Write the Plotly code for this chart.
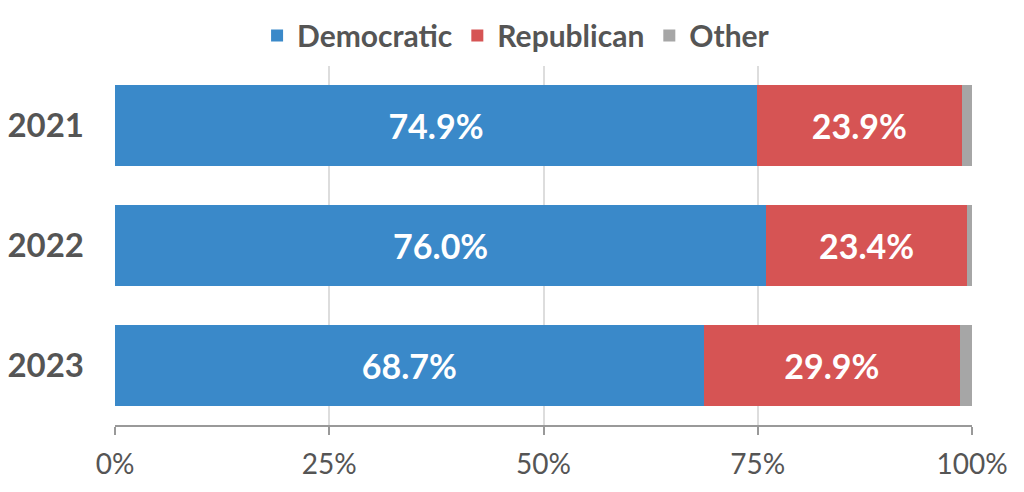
import plotly.graph_objects as go

years = ["2021", "2022", "2023"]
democratic = [74.9, 76.0, 68.7]
republican = [23.9, 23.4, 29.9]
other = [1.2, 0.6, 1.4]
x_ticks = [0, 25, 50, 75, 100]
x_tick_labels = ["0%", "25%", "50%", "75%", "100%"]

fig = go.Figure()
series = [
    ("Democratic", democratic, "#3a89c9", True),
    ("Republican", republican, "#d65454", True),
    ("Other", other, "#a6a6a6", False),
]
for name, vals, color, show_text in series:
    fig.add_trace(go.Bar(
        y=years, x=vals, name=name, orientation="h",
        marker=dict(color=color, line=dict(width=0)),
        text=[f"{v:.1f}%" for v in vals] if show_text else None,
        textposition="inside" if show_text else "none",
        insidetextanchor="middle",
        textfont=dict(family="Lato", size=34, color="white", weight="bold"),
        hoverinfo="x+name",
    ))

fig.update_layout(
    barmode="stack",
    bargap=0.325,
    width=1024, height=492,
    margin=dict(l=107, r=60, t=58, b=75, autoexpand=False),
    paper_bgcolor="white", plot_bgcolor="white",
    font=dict(family="Lato", color="#555555"),
    uniformtext=dict(mode="show", minsize=10),
    legend=dict(
        orientation="h", x=0.468, xanchor="center", y=0.997, yanchor="top",
        yref="container",
        font=dict(family="Lato", size=30, color="#555555", weight="bold"),
        itemsizing="constant", traceorder="normal",
    ),
    xaxis=dict(
        range=[0, 100], tickvals=x_ticks, ticktext=x_tick_labels,
        showgrid=True, gridcolor="#dddddd", gridwidth=2,
        showline=True, linecolor="#999999", linewidth=2,
        ticks="outside", ticklen=8, tickcolor="#999999", tickwidth=2,
        tickfont=dict(family="Lato", size=28, color="#555555"),
        ticklabelstandoff=5, automargin=False,
        zeroline=False, fixedrange=True,
    ),
    yaxis=dict(
        autorange="reversed",
        tickfont=dict(family="Lato", size=33, color="#555555", weight="bold"),
        ticklabelstandoff=30, showgrid=False, showline=False, ticks="",
        automargin=False, fixedrange=True,
    ),
)

fig.write_html("out.html")
